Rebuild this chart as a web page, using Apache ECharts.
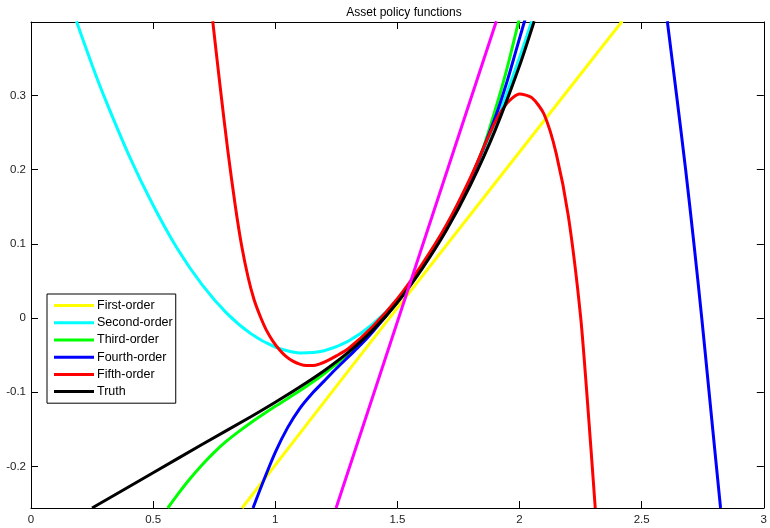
<!DOCTYPE html>
<html>
<head>
<meta charset="utf-8">
<title>Asset policy functions</title>
<script src="https://cdn.jsdelivr.net/npm/echarts@6/dist/echarts.min.js"></script>
<style>
  html, body { margin: 0; padding: 0; background: #fff; }
  #chart { width: 770px; height: 528px; }
</style>
</head>
<body>
<div id="chart"></div>
<script>
// legend names
const seriesNames = ['First-order', 'Second-order', 'Third-order', 'Fourth-order', 'Fifth-order', 'Truth']

// x tick labels / axis limits
const xTicks = [0, 0.5, 1, 1.5, 2, 2.5, 3]
const yTicks = [-0.2, -0.1, 0, 0.1, 0.2, 0.3]

// curves, [x, y]
const firstOrder = [[0.864, -0.256], [1.467, 0.0], [2.42, 0.40]]

const secondOrder = [[0.186, 0.40], [0.25, 0.341], [0.3, 0.298], [0.4, 0.220], [0.5, 0.152], [0.6, 0.093],
  [0.7, 0.045], [0.8, 0.007], [0.9, -0.021], [1.0, -0.039], [1.1, -0.047], [1.2, -0.044], [1.3, -0.031],
  [1.4, -0.008], [1.5, 0.025], [1.6, 0.070], [1.7, 0.124], [1.8, 0.187], [1.9, 0.260], [2.0, 0.351], [2.05, 0.40]]

const thirdOrder = [[0.56, -0.256], [0.6, -0.238], [0.65, -0.217], [0.7, -0.198], [0.75, -0.181], [0.8, -0.166],
  [0.85, -0.153], [0.9, -0.141], [1.0, -0.119], [1.1, -0.098], [1.2, -0.075], [1.3, -0.048], [1.4, -0.016],
  [1.5, 0.022], [1.6, 0.067], [1.7, 0.121], [1.8, 0.188], [1.85, 0.228], [1.9, 0.280], [1.95, 0.338], [2.0, 0.405]]

// two visible pieces, '-' breaks the line
const fourthOrder = [[0.909, -0.256], [0.95, -0.221], [1.0, -0.181], [1.05, -0.148], [1.1, -0.122], [1.15, -0.102],
  [1.2, -0.085], [1.25, -0.068], [1.3, -0.052], [1.35, -0.036], [1.4, -0.018], [1.5, 0.022], [1.6, 0.069],
  [1.7, 0.123], [1.8, 0.188], [1.9, 0.270], [1.95, 0.320], [2.0, 0.377], [2.025, 0.405],
  [2.3, '-'],
  [2.605, 0.40], [2.643, 0.30], [2.68, 0.20], [2.714, 0.10], [2.746, 0.0], [2.776, -0.10], [2.806, -0.20], [2.823, -0.256]]

const fifthOrder = [[0.744, 0.40], [0.775, 0.31], [0.806, 0.225], [0.836, 0.152], [0.862, 0.098], [0.888, 0.056],
  [0.913, 0.025], [0.94, 0.001], [0.963, -0.016], [0.99, -0.031], [1.018, -0.043], [1.045, -0.052],
  [1.072, -0.058], [1.10, -0.062], [1.127, -0.064], [1.155, -0.064], [1.18, -0.062], [1.21, -0.058],
  [1.25, -0.051], [1.3, -0.041], [1.4, -0.011], [1.5, 0.026], [1.6, 0.072], [1.7, 0.125], [1.8, 0.190],
  [1.9, 0.264], [1.95, 0.290], [2.0, 0.302], [2.05, 0.297], [2.1, 0.275], [2.15, 0.222], [2.2, 0.137],
  [2.25, 0.002], [2.28, -0.121], [2.31, -0.256]]

const truth = [[0.25, -0.256], [0.5, -0.2085], [0.7, -0.1705], [0.9, -0.133], [1.0, -0.1135], [1.1, -0.093],
  [1.2, -0.071], [1.3, -0.046], [1.4, -0.016], [1.5, 0.021], [1.6, 0.066], [1.7, 0.118], [1.8, 0.180],
  [1.9, 0.253], [2.0, 0.340], [2.06, 0.40]]

// unlabelled magenta line
const extraLine = [[1.249, -0.256], [1.905, 0.40]]

const colors = ['#ffff00', '#00ffff', '#00ff00', '#0000ff', '#ff0000', '#000000']

const myChart = echarts.init(document.getElementById('chart'))

const font = 'Liberation Sans, Arial, sans-serif'

//共用的坐标轴样式
const axisLine = { show: true, onZero: false, lineStyle: { color: '#000', width: 1 } }
const axisTick = { show: true, inside: true, length: 7, lineStyle: { color: '#000' } }

function lineSeries(name, data, color) {
  return {
    name: name,
    type: 'line',
    data: data,
    smooth: 0.25,
    showSymbol: false,
    symbol: 'none',
    connectNulls: false,
    clip: true,
    lineStyle: { color: color, width: 3 },
    itemStyle: { color: color }
  }
}

const option = {
  animation: false,
  backgroundColor: '#fff',
  title: {
    text: 'Asset policy functions',
    left: 399,
    textAlign: 'center',
    top: 2,
    textStyle: { fontFamily: font, fontSize: 12, fontWeight: 'normal', color: '#000' }
  },
  legend: {
    data: seriesNames,
    orient: 'vertical',
    left: 47,
    top: 294,
    padding: [5, 3, 5, 7],
    itemGap: 4,
    itemWidth: 40,
    itemHeight: 3,
    icon: 'rect',
    backgroundColor: '#fff',
    borderColor: '#000',
    borderWidth: 1,
    borderRadius: 0,
    textStyle: { fontFamily: font, fontSize: 12.5, color: '#000', lineHeight: 13.2, padding: [0, 0, 0, -2] }
  },
  grid: { left: 31, right: 5, top: 22, bottom: 20, containLabel: false },
  xAxis: [{
    type: 'value',
    min: xTicks[0],
    max: xTicks[xTicks.length - 1],
    interval: 0.5,
    axisLine: axisLine,
    axisTick: axisTick,
    splitLine: { show: false },
    axisLabel: { fontFamily: font, fontSize: 11.5, color: '#222', margin: 6 }
  }, {
    type: 'value',
    position: 'top',
    min: xTicks[0],
    max: xTicks[xTicks.length - 1],
    interval: 0.5,
    axisLine: axisLine,
    axisTick: axisTick,
    splitLine: { show: false },
    axisLabel: { show: false }
  }],
  yAxis: [{
    type: 'value',
    min: -0.256,
    max: 0.399,
    splitNumber: 6,
    axisLine: axisLine,
    axisTick: axisTick,
    splitLine: { show: false },
    axisLabel: {
      fontFamily: font, fontSize: 11.5, color: '#222', margin: 5,
      showMinLabel: false, showMaxLabel: false,
      formatter: function (v) {
        // only the round ticks get a label
        return yTicks.some(t => Math.abs(t - v) < 1e-6) ? String(Math.round(v * 10) / 10) : ''
      }
    }
  }, {
    type: 'value',
    position: 'right',
    min: -0.256,
    max: 0.399,
    splitNumber: 6,
    axisLine: axisLine,
    axisTick: axisTick,
    splitLine: { show: false },
    axisLabel: { show: false }
  }],
  series: [
    lineSeries(seriesNames[0], firstOrder, colors[0]),
    lineSeries(seriesNames[1], secondOrder, colors[1]),
    lineSeries(seriesNames[2], thirdOrder, colors[2]),
    lineSeries(seriesNames[3], fourthOrder, colors[3]),
    lineSeries(seriesNames[4], fifthOrder, colors[4]),
    lineSeries(seriesNames[5], truth, colors[5]),
    lineSeries('extra', extraLine, '#ff00ff')
  ]
}

myChart.setOption(option)
</script>
</body>
</html>
